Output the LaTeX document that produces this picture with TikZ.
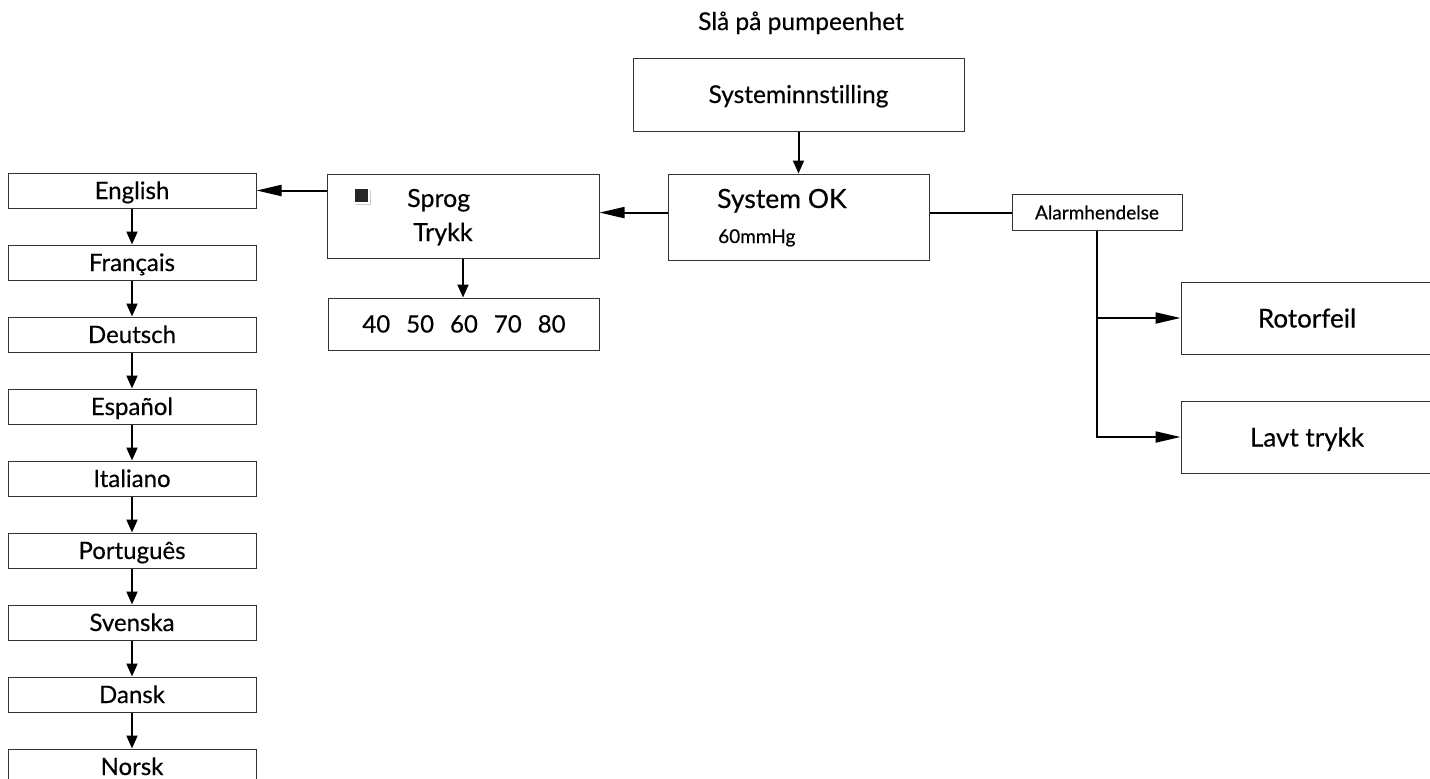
\documentclass[tikz,border=0pt]{standalone}
\usepackage{fontspec}
\setmainfont{Lato}[Ligatures=NoCommon, FakeBold=0.4]
\usetikzlibrary{arrows.meta,calc}

\tikzset{
  box/.style={draw=black!80, line width=1pt, inner sep=0pt},
  langbox/.style={box, minimum width=248pt, minimum height=35pt,
                  font=\fontsize{24}{28}\selectfont, text height=17pt, text depth=0pt},
  bigbox/.style={box, font=\fontsize{26}{30}\selectfont, text height=19pt, text depth=0pt},
  lbl/.style={inner sep=0pt, anchor=base west},
  varr/.style={line width=2pt, -{Triangle[length=13pt,width=11pt]}},
  harr/.style={line width=2pt, -{Triangle[length=25pt,width=11pt]}},
}

\begin{document}
\begin{tikzpicture}[x=1pt, y=-1pt]
    \useasboundingbox (0,0) rectangle (1430,779);

    % Top
    \node[inner sep=0pt, anchor=base, font=\fontsize{24.5}{28}\selectfont] (title) at (801,30) {Slå på pumpeenhet};
    \node[box, minimum width=331pt, minimum height=73pt, font=\fontsize{24.5}{28}\selectfont,
          text height=17pt, text depth=0pt] (setup) at (798.5,94.5) {Systeminnstilling};

    % System OK
    \node[box, minimum width=261pt, minimum height=86pt] (ok) at (799,217) {};
    \node[lbl, font=\fontsize{26.5}{30}\selectfont] (oktext) at (717,208) {System OK};
    \node[lbl, font=\fontsize{19}{22}\selectfont] (okval) at (718,243) {60mmHg};

    % Menu
    \node[box, minimum width=272pt, minimum height=84pt] (menu) at (463,216) {};
    \fill[black!85] (355,189) rectangle (368,202);
    \draw[black!20, line width=1.5pt] (370.5,190) -- (370.5,204.5) -- (356,204.5);
    \node[lbl, font=\fontsize{25}{28}\selectfont] (sprog) at (407,207) {Sprog};
    \node[lbl, font=\fontsize{25}{28}\selectfont] (trykk) at (413,241) {Trykk};
    \node[box, minimum width=271pt, minimum height=52pt, font=\fontsize{24}{28}\selectfont,
          text height=17pt, text depth=0pt] (values) at (464,324)
          {40\hspace{16pt}50\hspace{16pt}60\hspace{16pt}70\hspace{16pt}80};

    % Alarms
    \node[box, minimum width=170pt, minimum height=36pt, font=\fontsize{19}{22}\selectfont,
          text height=13.5pt, text depth=0pt] (alarm) at (1097,212.6) {Alarmhendelse};
    \node[bigbox, minimum width=252pt, minimum height=72pt] (rotor) at (1307,318) {Rotorfeil};
    \node[bigbox, minimum width=252pt, minimum height=72pt] (lavt) at (1307,437) {Lavt trykk};

    % Languages
    \foreach \name [count=\i] in {English,Français,Deutsch,Español,Italiano,Português,Svenska,Dansk,Norsk}
        \node[langbox] (l\i) at (132,{190.5+72*(\i-1)}) {\name};
    \foreach \i [evaluate=\i as \j using int(\i+1)] in {1,...,8}
        \draw[varr] (l\i.south) -- (l\j.north);

    % Connectors
    \draw[varr] (setup.south) -- (setup.south |- ok.north);
    \draw[harr] (ok.west |- alarm.west) -- (menu.east |- alarm.west);
    \draw[harr] (menu.west |- l1.east) -- (l1.east);
    \draw[varr] (menu.south) -- (menu.south |- values.north);
    \draw[line width=2pt] (ok.east |- alarm.west) -- (alarm.west);
    \draw[harr] (alarm.south) |- (lavt.west);
    \draw[harr] (alarm.south |- rotor.west) -- (rotor.west);
\end{tikzpicture}
\end{document}
